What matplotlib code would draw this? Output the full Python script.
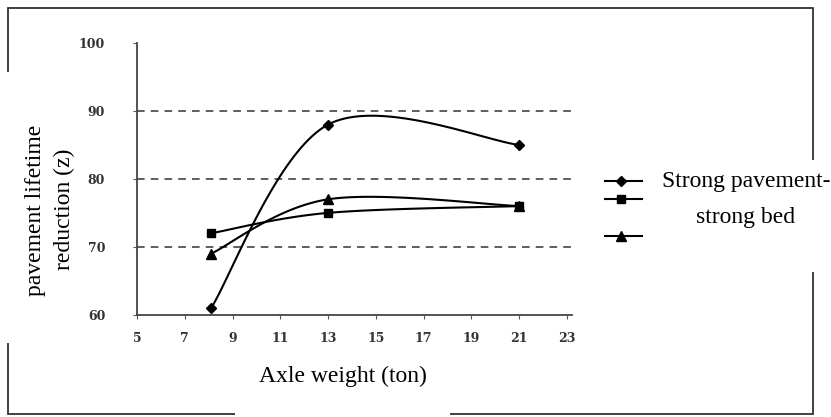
import numpy as np
import matplotlib
matplotlib.use("Agg")
import matplotlib.pyplot as plt
from matplotlib.patches import Rectangle

x_vals = [8.1, 13, 21]
strong_strong = [61, 88, 85]
series_square = [72, 75, 76]
series_triangle = [69, 77, 76]
x_ticks = [5, 7, 9, 11, 13, 15, 17, 19, 21, 23]
y_ticks = [60, 70, 80, 90, 100]
grid_levels = [70, 80, 90]


def smooth(xs, ys, n=40, t=1/6):
    xs = np.asarray(xs, float); ys = np.asarray(ys, float)
    px = np.concatenate([[xs[0]], xs, [xs[-1]]])
    py = np.concatenate([[ys[0]], ys, [ys[-1]]])
    outx, outy = [], []
    for i in range(1, len(px) - 2):
        p0 = np.array([px[i], py[i]]); p3 = np.array([px[i + 1], py[i + 1]])
        p1 = p0 + t * (np.array([px[i + 1], py[i + 1]]) - np.array([px[i - 1], py[i - 1]]))
        p2 = p3 - t * (np.array([px[i + 2], py[i + 2]]) - np.array([px[i], py[i]]))
        s = np.linspace(0, 1, n)[:, None]
        b = (1 - s) ** 3 * p0 + 3 * (1 - s) ** 2 * s * p1 + 3 * (1 - s) * s ** 2 * p2 + s ** 3 * p3
        outx.extend(b[:, 0]); outy.extend(b[:, 1])
    return outx, outy


fig = plt.figure(figsize=(8.31, 4.17), dpi=100)
ax = fig.add_axes([0.165, 0.245, 0.523, 0.652])

for lv in grid_levels:
    ax.axhline(lv, color="#333333", lw=1.1, ls=(0, (5, 4)), zorder=1)

for ys, m, ms in [(strong_strong, "D", 5), (series_square, "s", 6), (series_triangle, "^", 7)]:
    sx, sy = smooth(x_vals, ys)
    ax.plot(sx, sy, color="black", lw=1.5, zorder=3)
    ax.plot(x_vals, ys, ls="none", marker=m, ms=ms, color="black", zorder=4)

ax.set_xlim(5, 23.2)
ax.set_ylim(60, 100)
ax.set_xticks(x_ticks)
ax.set_yticks(y_ticks)
for lab in ax.get_xticklabels() + ax.get_yticklabels():
    lab.set_fontfamily("DejaVu Serif")
    lab.set_fontweight("bold")
    lab.set_fontsize(9)
    lab.set_color("#333333")
ax.tick_params(axis="both", length=3, color="#555555")
ax.tick_params(axis="x", pad=9)
ax.tick_params(axis="y", pad=20)
for s in ["top", "right"]:
    ax.spines[s].set_visible(False)
for s in ["left", "bottom"]:
    ax.spines[s].set_color("#444444")
    ax.spines[s].set_linewidth(1.3)
ax.patch.set_alpha(0)

# frame
W, H = 831, 417
def fx(p): return p / W
def fy(p): return 1 - p / H
fig.add_artist(Rectangle((fx(8), fy(414)), fx(813) - fx(8), fy(8) - fy(414),
                         transform=fig.transFigure, fill=False, lw=1.3, ec="#333333", zorder=0))

# white boxes for labels
fig.add_artist(Rectangle((0, fy(343)), fx(84), fy(72) - fy(343), transform=fig.transFigure,
                         fc="white", ec="none", zorder=5))
fig.add_artist(Rectangle((fx(235), 0), fx(450) - fx(235), fy(352), transform=fig.transFigure,
                         fc="white", ec="none", zorder=5))
fig.add_artist(Rectangle((fx(645), fy(272)), fx(831) - fx(645), fy(160) - fy(272),
                         transform=fig.transFigure, fc="white", ec="none", zorder=5))

serif = "Liberation Serif"
fig.text(fx(36), fy(210), "pavement lifetime", rotation=90, ha="center", va="center",
         fontsize=17, family=serif, zorder=6)
fig.text(fx(64), fy(209), "reduction (z)", rotation=90, ha="center", va="center",
         fontsize=17, family=serif, zorder=6)
fig.text(fx(343), fy(376), "Axle weight (ton)", ha="center", va="center",
         fontsize=17, family=serif, zorder=6)
fig.text(fx(746), fy(181), "Strong pavement-", ha="center", va="center",
         fontsize=17, family=serif, zorder=6)
fig.text(fx(746), fy(218), "strong bed", ha="center", va="center",
         fontsize=17, family=serif, zorder=6)

# legend handles
for yy, m, ms in [(181, "D", 5), (199, "s", 6), (236, "^", 7)]:
    fig.add_artist(plt.Line2D([fx(605), fx(642)], [fy(yy), fy(yy)], color="black", lw=1.5,
                              transform=fig.transFigure))
    fig.add_artist(plt.Line2D([fx(621)], [fy(yy)], marker=m, ms=ms, color="black",
                              transform=fig.transFigure))

fig.savefig("out.png", dpi=100)
